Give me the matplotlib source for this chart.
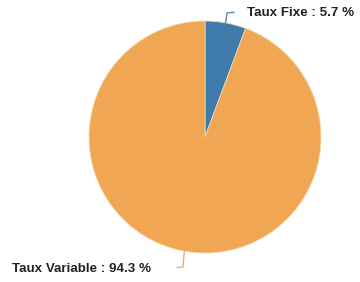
import matplotlib.pyplot as plt

labels = ["Taux Fixe", "Taux Variable"]
shares = [5.7, 94.3]
colors = ["#3f7cab", "#f0a652"]

W, H = 360, 282
fig = plt.figure(figsize=(W / 100, H / 100), dpi=100)
cx, cy, r = 205, 145, 116
ax = fig.add_axes([(cx - r) / W, (cy - r) / H, 2 * r / W, 2 * r / H])

ax.pie(shares, colors=colors, startangle=90, counterclock=False,
       wedgeprops=dict(edgecolor="#f3d9b0", linewidth=0.6))
ax.set_xlim(-1, 1)
ax.set_ylim(-1, 1)
ax.set_aspect("equal")
ax.axis("off")

font = dict(family="Liberation Sans", weight="bold", fontsize=9.6, color="#222222")

# leader lines
ax.plot([0.178, 0.19, 0.25], [0.984, 1.07, 1.075], color="#5a8fb5", lw=1.0, clip_on=False)
ax.plot([-0.178, -0.19, -0.24], [-0.984, -1.12, -1.125], color="#e8b070", lw=1.0, clip_on=False)

ax.text(0.36, 1.07, f"{labels[0]} : {shares[0]} %", va="center", ha="left", **font)
ax.text(-1.665, -1.14, f"{labels[1]} : {shares[1]} %", va="center", ha="left", **font)

fig.savefig("out.png", dpi=100)
